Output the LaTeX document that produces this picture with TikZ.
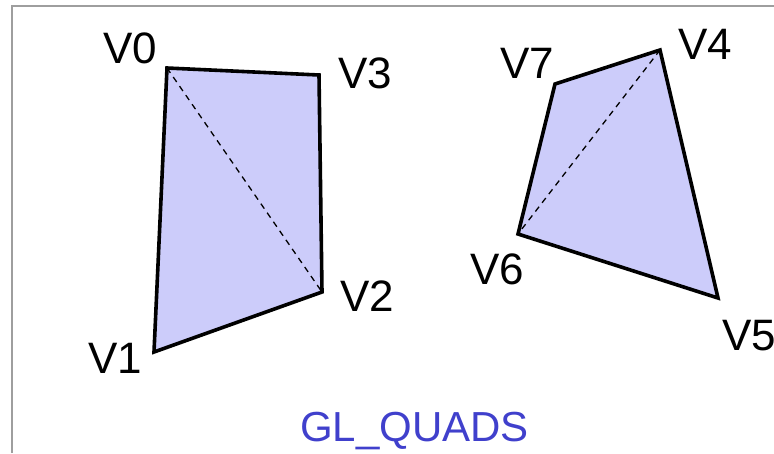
\documentclass[tikz,border=0pt]{standalone}
\usepackage{fontspec}
\setmainfont{Liberation Sans}
\usetikzlibrary{positioning}

\definecolor{quadfill}{RGB}{204,204,250}
\definecolor{quadblue}{RGB}{64,64,204}

\begin{document}
\begin{tikzpicture}[
    x=1pt, y=-1pt,
    % --- Node styles ---
    vlabel/.style={anchor=base west, inner sep=0pt, font=\fontsize{44}{50}\selectfont},
    title/.style={anchor=base west, inner sep=0pt, text=quadblue, font=\fontsize{42}{50}\selectfont},
    % --- Edge styles ---
    quad/.style={draw=black, line width=3.6pt, line join=miter, fill=quadfill},
    diagonal/.style={dashed, line width=1.3pt, dash pattern=on 6pt off 5pt},
    frame/.style={draw=black!38, line width=2pt},
]
\useasboundingbox (0,0) rectangle (774,453);

% === Frame ===
\draw[frame] (12,453) -- (12,6) -- (774,6);

% === First quad: V0..V3 ===
\coordinate (v0) at (167,68);
\coordinate (v1) at (154,352);
\coordinate (v2) at (322,292);
\coordinate (v3) at (319,75);
\path[quad] (v0) -- (v1) -- (v2) -- (v3) -- cycle;
\draw[diagonal] (v0) -- (v2);

% === Second quad: V4..V7 ===
\coordinate (v4) at (660,50);
\coordinate (v5) at (718,298);
\coordinate (v6) at (518,234);
\coordinate (v7) at (555,84);
\path[quad] (v4) -- (v5) -- (v6) -- (v7) -- cycle;
\draw[diagonal] (v4) -- (v6);

% --- Labels ---
\node[vlabel] (l0) at (103,63) {V0};
\node[vlabel] (l1) at (88,373) {V1};
\node[vlabel] (l2) at (340,311) {V2};
\node[vlabel] (l3) at (338,88) {V3};
\node[vlabel] (l4) at (678,59) {V4};
\node[vlabel] (l5) at (722,350) {V5};
\node[vlabel] (l6) at (470,284) {V6};
\node[vlabel] (l7) at (500,78) {V7};

\node[title] (name) at (300,441) {GL\_QUADS};

\end{tikzpicture}
\end{document}
